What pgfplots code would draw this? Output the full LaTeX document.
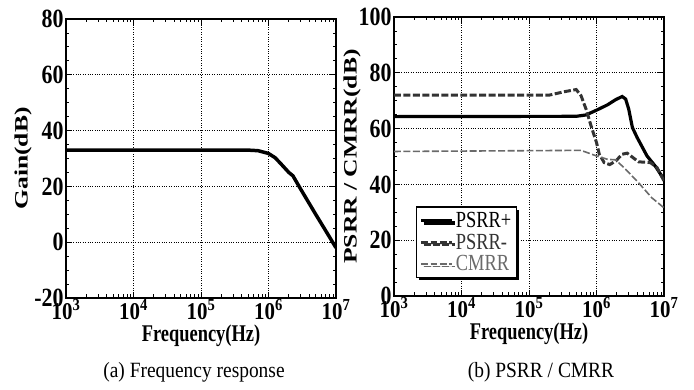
\documentclass[border=0pt]{standalone}
\usepackage{fontspec}
\setmainfont{Liberation Serif}
\usepackage{graphicx}
\usepackage{xcolor}
\usepackage{pgfplots}
\pgfplotsset{compat=1.18}
\usetikzlibrary{shadows}
\definecolor{dgray}{HTML}{333333}
\definecolor{mgray}{HTML}{6A6A6A}
\newcommand{\tl}[1]{\scalebox{1}[1.2]{#1}}
\newcommand{\xl}[1]{\scalebox{1}[1.15]{10\textsuperscript{#1}}}
\newcommand{\legtxt}[1]{\scalebox{1}[1.25]{#1}}
\begin{document}
\begin{tikzpicture}
\useasboundingbox (-66bp,-92bp) rectangle (628bp,298bp);
\begin{axis}[xmode=log, scale only axis, width=270bp, height=279bp,
    xmin=1e3, xmax=1e7,
    xtick={1e3,1e4,1e5,1e6,1e7},
    xticklabels={\xl{3},\xl{4},\xl{5},\xl{6},\xl{7}},
    minor xtick={2e3,3e3,4e3,5e3,6e3,7e3,8e3,9e3,2e4,3e4,4e4,5e4,6e4,7e4,8e4,9e4,2e5,3e5,4e5,5e5,6e5,7e5,8e5,9e5,2e6,3e6,4e6,5e6,6e6,7e6,8e6,9e6},
    grid=major,
    major grid style={black, line width=0.7pt, dash pattern=on 0.8pt off 1.6pt},
    axis line style={line width=1.3pt},
    tick style={black, line width=0.8pt},
    major tick length=6bp, minor tick length=3.5bp,
    minor y tick num=3,
    tick align=inside,
    xticklabel style={font=\fontsize{21}{21}\selectfont\bfseries, yshift=2pt},
    yticklabel style={font=\fontsize{22}{22}\selectfont\bfseries, xshift=1pt},
    xlabel={\scalebox{1}[1.3]{Frequency(Hz)}},
    xlabel style={at={(axis description cs:0.5,-0.136)}, anchor=center, font=\fontsize{18.5}{18.5}\selectfont\bfseries},
    at={(0,0)}, anchor=south west,
  ymin=-20, ymax=80, ytick={-20,0,20,40,60,80},
  yticklabels={\tl{-20},\tl{0},\tl{20},\tl{40},\tl{60},\tl{80}},
  ylabel={\scalebox{1.35}[1]{Gain(dB)}},
  ylabel style={at={(axis description cs:-0.159,0.5)}, anchor=center, font=\fontsize{19}{19}\selectfont\bfseries},
]
\addplot[black, line width=3.5pt] coordinates {
(1e3,33) (5e5,33) (7e5,32.8) (1e6,31.8) (1.25e6,30.3) (1.5e6,28.3) (2e6,25) (2.3e6,23.8)
(3e6,19) (5e6,10) (7e6,4.2) (1e7,-2)};
\end{axis}
\begin{axis}[xmode=log, scale only axis, width=270bp, height=279bp,
    xmin=1e3, xmax=1e7,
    xtick={1e3,1e4,1e5,1e6,1e7},
    xticklabels={\xl{3},\xl{4},\xl{5},\xl{6},\xl{7}},
    minor xtick={2e3,3e3,4e3,5e3,6e3,7e3,8e3,9e3,2e4,3e4,4e4,5e4,6e4,7e4,8e4,9e4,2e5,3e5,4e5,5e5,6e5,7e5,8e5,9e5,2e6,3e6,4e6,5e6,6e6,7e6,8e6,9e6},
    grid=major,
    major grid style={black, line width=0.7pt, dash pattern=on 0.8pt off 1.6pt},
    axis line style={line width=1.3pt},
    tick style={black, line width=0.8pt},
    major tick length=6bp, minor tick length=3.5bp,
    minor y tick num=3,
    tick align=inside,
    xticklabel style={font=\fontsize{21}{21}\selectfont\bfseries, yshift=2pt},
    yticklabel style={font=\fontsize{22}{22}\selectfont\bfseries, xshift=1pt},
    xlabel={\scalebox{1}[1.3]{Frequency(Hz)}},
    xlabel style={at={(axis description cs:0.5,-0.136)}, anchor=center, font=\fontsize{18.5}{18.5}\selectfont\bfseries},
  at={(328bp,2bp)}, anchor=south west,
  ymin=0, ymax=100, ytick={0,20,40,60,80,100},
  yticklabels={\tl{0},\tl{20},\tl{40},\tl{60},\tl{80},\tl{100}},
  ylabel={\scalebox{1.35}[1]{PSRR / CMRR(dB)}},
  ylabel style={at={(axis description cs:-0.155,0.5)}, anchor=center, font=\fontsize{19}{19}\selectfont\bfseries},
  legend style={at={(rel axis cs:0.081,0.065)}, anchor=south west, draw=black, line width=1.2pt, fill=white,
    drop shadow={shadow xshift=2.5pt, shadow yshift=-2.5pt, opacity=1, fill=black},
    font=\fontsize{18.5}{18.5}\selectfont, row sep=1pt, inner xsep=3pt, inner ysep=3pt, cells={anchor=west}},
  legend image code/.code={\draw[#1] (0cm,0cm) -- (1.1cm,0cm);},
]
\addplot[black, line width=3.2pt] coordinates {
(1e3,64.3) (5e5,64.4) (7e5,64.9) (1e6,66.6) (1.45e6,68.5) (1.93e6,70.4) (2.4e6,71.5) (2.7e6,70.6)
(3e6,67) (3.4e6,60.4) (4e6,56.8) (5.6e6,50.2) (7.5e6,46.4) (1e7,41.8)};
\addlegendentry{\legtxt{PSRR+}}
\addplot[dgray, line width=3pt, dash pattern=on 7pt off 2.5pt] coordinates {
(1e3,72) (2e5,72) (3.3e5,73.2) (5e5,74) (5.9e5,71.8) (7e5,67) (8.3e5,61) (1e6,55) (1.1e6,50.8)
(1.3e6,47.8) (1.57e6,47.1) (1.93e6,48.4) (2.4e6,50.8) (2.85e6,51.2) (3.6e6,49.3) (4.2e6,48.1)
(6.3e6,47.8) (7.9e6,46) (1e7,41.2)};
\addlegendentry{\legtxt{\textcolor{dgray}{PSRR-}}}
\addplot[mgray, line width=1.6pt, dash pattern=on 7pt off 2.5pt] coordinates {
(1e3,51.8) (5.9e5,52.2) (1e6,50.2) (1.45e6,49) (1.93e6,48.8) (2.7e6,45.4) (4.2e6,40.6) (6.6e6,35.2) (1e7,31.6)};
\addlegendentry{\legtxt{\textcolor{mgray}{CMRR}}}
\end{axis}
\node[font=\fontsize{19.5}{19.5}\selectfont] at (128bp,-74bp) {\scalebox{1}[1.12]{(a) Frequency response}};
\node[font=\fontsize{19.5}{19.5}\selectfont] at (475bp,-74bp) {\scalebox{1}[1.12]{(b) PSRR / CMRR}};
\end{tikzpicture}
\end{document}
